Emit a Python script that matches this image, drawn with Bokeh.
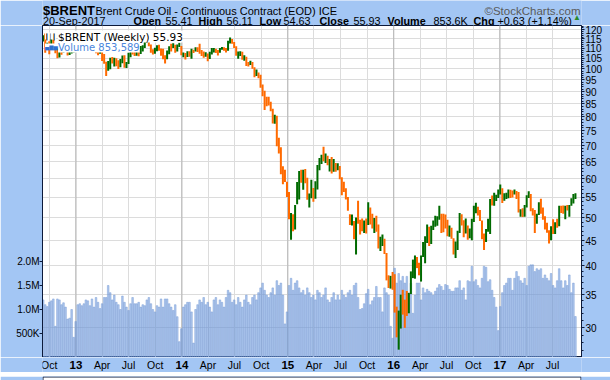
import pandas as pd
from bokeh.plotting import figure
from bokeh.models import (Range1d, LinearAxis, LinearScale, FixedTicker, Label, Span,
                          ColumnDataSource, PrintfTickFormatter)
from bokeh.core.properties import value
from bokeh.layouts import column
from bokeh.embed import file_html
from bokeh.resources import INLINE

# ---------------- data (weekly, Brent continuous contract) ----------------
start_monday = "2012-09-10"

close_2012 = [116.7, 111.4, 112.4, 111.9, 114.6, 109.8, 109.5, 105.7, 109.4, 108.9, 111.4, 111.2, 107.0, 108.6, 109.3, 111.0]
high_2012 = [117.0, 117.9, 113.0, 113.7, 115.4, 114.6, 110.7, 110.2, 110.3, 110.9, 111.6, 111.6, 111.3, 109.0, 110.0, 111.2]
low_2012 = [113.6, 107.8, 109.2, 107.1, 110.6, 109.3, 107.6, 105.1, 105.5, 106.8, 107.9, 109.0, 106.5, 106.7, 107.5, 108.0]
vol_2012 = [1.20, 1.10, 1.06, 1.15, 1.18, 1.22, 0.65, 1.22, 1.20, 1.10, 1.14, 1.05, 0.80, 0.82, 1.00, 0.42]

close_2013 = [111.3, 111.6, 111.9, 113.3, 116.8, 118.9, 117.7, 114.4, 110.4, 110.9, 109.8, 107.8, 110.0,
              104.1, 102.9, 99.7, 103.2, 104.2, 103.9, 104.6, 102.6, 100.4, 104.6, 105.9, 101.2, 102.2,
              107.7, 108.8, 108.1, 107.2, 109.0, 107.4, 110.4, 111.0, 114.0, 116.1, 111.7, 109.2, 108.6,
              109.5, 111.3, 109.9, 106.9, 105.5, 105.1, 108.5, 111.1, 110.7, 111.6, 108.8, 111.8, 112.2]
high_2013 = [112.5, 112.8, 112.3, 113.8, 117.0, 119.2, 119.2, 118.0, 114.8, 112.3, 111.0, 109.8, 110.3,
             111.0, 107.2, 103.4, 103.8, 105.3, 105.7, 105.3, 105.1, 104.1, 104.7, 106.4, 106.6, 103.3,
             108.0, 109.5, 109.3, 108.5, 109.5, 109.4, 111.3, 111.7, 117.3, 117.3, 116.3, 112.1, 109.6,
             110.4, 111.6, 111.9, 110.0, 109.8, 106.6, 109.0, 111.2, 112.4, 112.7, 111.9, 112.0, 112.9]
low_2013 = [109.8, 110.5, 109.6, 110.9, 113.0, 115.8, 116.8, 113.5, 110.0, 109.4, 107.6, 106.6, 107.3,
            103.8, 102.5, 96.8, 99.2, 99.9, 102.6, 101.2, 101.3, 100.0, 100.8, 102.7, 100.6, 100.5,
            102.3, 105.6, 106.9, 106.2, 106.3, 106.1, 107.2, 108.4, 110.3, 113.0, 111.2, 107.8, 107.0,
            107.3, 108.6, 108.8, 106.3, 104.6, 102.6, 104.6, 107.1, 108.4, 110.2, 107.8, 108.4, 110.8]
vol_2013 = [0.75, 1.10, 1.12, 1.08, 1.12, 1.20, 1.18, 1.08, 1.22, 1.05, 1.25, 1.15, 1.02,
            1.12, 1.25, 1.25, 1.50, 1.35, 1.20, 1.30, 1.15, 1.10, 1.00, 1.28, 1.15, 1.05,
            0.98, 1.12, 1.25, 1.12, 1.12, 1.15, 1.05, 1.10, 1.08, 1.20, 1.25, 1.12, 1.00,
            0.95, 1.08, 1.05, 1.22, 1.05, 1.22, 1.22, 1.12, 1.05, 0.98, 1.10, 0.85, 0.33]

close_2014 = [107.0, 107.2, 106.5, 107.9, 106.4, 109.6, 109.1, 110.0, 109.1, 108.6, 108.0, 106.9, 107.4,
              106.7, 107.3, 109.5, 109.6, 108.6, 107.9, 109.8, 110.5, 109.4, 108.6, 113.4, 114.8, 113.3,
              110.6, 106.7, 107.2, 108.4, 105.0, 105.0, 103.5, 102.3, 103.2, 100.8, 97.1, 98.4, 97.0,
              92.3, 90.2, 86.2, 86.1, 85.9, 83.4, 79.4, 80.4, 70.2, 69.1, 61.9, 61.4, 59.5]
high_2014 = [111.3, 108.0, 107.7, 108.6, 108.6, 109.8, 109.4, 110.6, 110.6, 112.4, 109.2, 108.4, 108.1,
             107.4, 108.3, 110.3, 110.2, 109.9, 109.2, 110.3, 110.7, 110.6, 110.2, 114.0, 115.7, 115.0,
             113.4, 111.1, 108.4, 108.6, 108.3, 106.6, 105.8, 103.3, 103.9, 103.3, 100.8, 99.8, 98.4,
             97.3, 93.0, 90.4, 87.9, 87.9, 85.9, 83.1, 80.8, 80.4, 72.6, 69.5, 63.6, 62.6]
low_2014 = [106.6, 105.6, 104.5, 105.7, 105.9, 104.9, 107.7, 108.4, 108.2, 107.3, 106.2, 105.4, 105.8,
            103.7, 104.8, 106.9, 108.0, 107.7, 106.5, 107.8, 109.3, 108.8, 107.9, 108.8, 112.6, 112.4,
            110.2, 106.3, 104.9, 106.2, 104.4, 103.9, 101.4, 101.2, 101.8, 100.1, 96.2, 96.8, 95.8,
            91.6, 88.1, 82.6, 84.1, 84.4, 82.1, 77.6, 77.5, 69.8, 67.5, 61.3, 58.5, 59.1]
vol_2014 = [0.60, 1.05, 1.10, 1.15, 1.15, 0.95, 0.30, 1.00, 1.10, 1.20, 1.15, 1.25, 1.10,
            1.15, 1.05, 0.95, 1.20, 1.25, 1.10, 1.20, 1.15, 1.05, 1.25, 1.40, 1.35, 1.15,
            1.20, 1.10, 1.25, 1.15, 1.05, 1.20, 1.30, 1.15, 1.10, 1.25, 1.30, 1.20, 1.35,
            1.45, 1.55, 1.40, 1.30, 1.25, 1.35, 1.45, 1.30, 1.60, 1.50, 1.55, 1.30, 0.70]

close_2015 = [56.4, 50.1, 50.2, 48.8, 52.9, 57.8, 61.5, 60.2, 62.6, 59.7, 54.7, 55.3, 56.4,
              54.9, 57.9, 63.5, 65.3, 66.5, 65.4, 66.8, 65.4, 65.6, 63.3, 63.9, 63.0, 63.3,
              60.3, 58.7, 57.1, 54.6, 52.2, 48.6, 49.2, 45.5, 50.1, 49.6, 48.1, 47.5, 48.6,
              48.1, 52.7, 50.5, 48.0, 49.6, 47.4, 43.6, 44.7, 44.9, 43.0, 37.9, 36.9, 38.1]
high_2015 = [59.2, 56.4, 51.2, 50.9, 53.1, 59.1, 62.2, 62.6, 62.6, 62.8, 60.3, 56.0, 59.7,
             57.5, 59.3, 64.0, 66.1, 67.1, 69.6, 67.5, 66.8, 65.8, 66.4, 65.8, 64.6, 64.5,
             63.7, 60.4, 59.2, 57.4, 55.1, 50.9, 50.8, 49.3, 50.1, 54.2, 49.6, 49.9, 49.4,
             49.9, 53.8, 52.5, 51.0, 50.0, 50.5, 48.5, 45.8, 46.3, 45.4, 42.5, 38.3, 38.2]
low_2015 = [55.1, 49.7, 45.2, 47.0, 47.4, 53.3, 54.5, 58.9, 57.0, 58.8, 54.4, 52.5, 54.8,
            53.9, 54.7, 57.1, 62.4, 64.3, 65.1, 64.6, 63.9, 62.1, 61.5, 62.0, 62.0, 62.4,
            59.9, 55.6, 56.4, 54.5, 51.7, 48.4, 48.3, 45.3, 42.2, 48.7, 46.3, 47.0, 46.6,
            46.5, 48.4, 48.5, 47.6, 46.6, 46.9, 43.4, 42.9, 43.9, 42.3, 37.4, 36.1, 36.0]
vol_2015 = [0.95, 1.50, 1.65, 1.40, 1.55, 1.60, 1.45, 1.35, 1.40, 1.30, 1.45, 1.35, 1.25,
            1.30, 1.20, 1.40, 1.35, 1.25, 1.30, 1.45, 1.20, 1.15, 1.25, 1.35, 1.20, 1.30,
            1.20, 1.40, 1.30, 1.25, 1.35, 1.40, 1.30, 1.50, 1.55, 1.25, 1.00, 1.02, 1.12,
            1.33, 1.42, 1.10, 1.18, 1.25, 1.48, 1.25, 1.25, 0.95, 1.45, 1.35, 1.30, 0.65]

close_2016 = [37.3, 33.6, 29.0, 32.2, 34.7, 34.1, 33.4, 33.0, 35.1, 38.7, 40.4, 41.2, 40.4,
              38.7, 41.9, 43.1, 45.1, 48.1, 45.4, 47.8, 48.7, 49.3, 49.6, 50.5, 49.2, 48.4,
              48.0, 46.8, 47.6, 45.7, 42.5, 44.3, 46.9, 50.9, 49.9, 46.8, 48.0, 45.8, 45.9, 49.2,
              51.9, 51.9, 51.8, 49.7, 45.6, 44.8, 46.9, 47.2, 54.5, 54.3, 55.2, 55.2, 56.8]
high_2016 = [38.9, 38.5, 33.1, 32.5, 35.0, 35.8, 34.2, 35.6, 35.3, 39.0, 41.2, 42.0, 41.7,
             40.6, 42.0, 44.7, 45.9, 48.5, 48.0, 48.2, 49.4, 50.5, 50.4, 52.9, 51.0, 51.0,
             50.8, 49.6, 48.3, 47.8, 45.5, 44.8, 47.1, 51.2, 50.9, 49.5, 49.9, 48.3, 47.6, 49.8,
             52.9, 53.7, 52.7, 51.9, 49.4, 46.5, 47.5, 49.8, 54.6, 55.5, 56.2, 55.7, 57.1]
low_2016 = [35.8, 32.2, 28.7, 27.1, 29.9, 31.9, 30.0, 31.7, 32.1, 35.1, 37.8, 37.7, 39.6,
            38.3, 37.2, 41.7, 40.5, 44.5, 43.9, 44.3, 47.3, 48.0, 48.2, 49.6, 46.6, 46.8,
            47.6, 45.9, 45.8, 45.4, 42.2, 41.5, 43.1, 46.6, 48.3, 45.7, 46.5, 45.2, 45.5, 45.1,
            49.1, 51.1, 50.6, 49.3, 45.3, 43.1, 44.7, 46.9, 46.4, 53.0, 52.9, 54.1, 54.9]
vol_2016 = [0.40, 1.86, 1.55, 1.75, 1.60, 1.69, 1.55, 1.69, 1.31, 1.55, 0.92, 1.30, 1.55,
            1.55, 1.20, 1.45, 1.35, 1.42, 1.38, 1.35, 1.30, 1.38, 1.45, 1.52, 1.48, 1.40,
            1.52, 1.50, 1.42, 1.38, 1.38, 1.45, 1.45, 1.60, 1.40, 1.45, 1.20, 1.60, 1.58, 1.90,
            1.58, 1.62, 1.50, 1.45, 1.65, 1.90, 1.88, 1.58, 1.62, 1.40, 1.25, 1.05, 0.56]

close_2017 = [57.1, 55.5, 55.5, 55.5, 56.8, 56.7, 55.8, 56.0, 55.9, 51.4, 51.8, 50.8, 52.8,
              55.2, 55.9, 51.9, 51.7, 49.1, 50.8, 53.6, 52.2, 49.9, 48.2, 47.4, 45.5, 47.9,
              46.7, 48.9, 48.1, 52.5, 52.4, 52.1, 52.7, 52.4, 52.8, 53.8, 55.6, 55.93]
high_2017 = [58.4, 57.4, 56.1, 56.2, 57.1, 57.0, 56.8, 57.1, 56.7, 56.4, 52.1, 52.3, 53.1,
             55.6, 56.6, 55.9, 52.3, 51.9, 51.0, 53.8, 54.7, 52.5, 50.4, 48.9, 47.2, 48.1,
             49.7, 49.0, 49.8, 52.9, 52.9, 53.0, 52.9, 53.1, 53.1, 54.8, 55.9, 56.11]
low_2017 = [55.8, 53.6, 54.2, 54.6, 54.8, 54.9, 55.0, 55.8, 54.6, 51.3, 50.3, 50.2, 50.3,
            52.5, 54.9, 51.6, 50.6, 46.6, 48.7, 50.7, 51.0, 49.6, 47.4, 46.7, 44.4, 45.1,
            46.4, 46.4, 47.8, 48.1, 51.2, 51.0, 49.7, 51.8, 50.3, 52.9, 53.5, 54.63]
vol_2017 = [1.06, 1.35, 1.50, 1.55, 1.65, 1.65, 1.40, 1.65, 1.79, 1.69, 1.60, 1.55, 1.65,
            1.50, 1.90, 1.93, 1.93, 1.79, 1.85, 1.82, 1.85, 1.65, 1.72, 1.65, 1.60, 1.75,
            1.50, 1.45, 1.60, 1.85, 1.60, 1.45, 1.60, 1.50, 1.72, 1.35, 1.55, 0.853589]

price_ticks = [30, 35, 40, 45, 50, 55, 60, 65, 70, 75, 80, 85, 90, 95, 100, 105, 110, 115, 120]
vol_ticks = [0.5, 1.0, 1.5, 2.0]
vol_tick_labels = ["500K", "1.0M", "1.5M", "2.0M"]
quarter_labels = ["Oct", "13", "Apr", "Jul", "Oct", "14", "Apr", "Jul", "Oct", "15",
                  "Apr", "Jul", "Oct", "16", "Apr", "Jul", "Oct", "17", "Apr", "Jul"]

close = close_2012 + close_2013 + close_2014 + close_2015 + close_2016 + close_2017
high = high_2012 + high_2013 + high_2014 + high_2015 + high_2016 + high_2017
low = low_2012 + low_2013 + low_2014 + low_2015 + low_2016 + low_2017
vol = vol_2012 + vol_2013 + vol_2014 + vol_2015 + vol_2016 + vol_2017

# ---------------- styling / layout ----------------
BG = "#a3c6f4"
DARK = "#0c1a3a"
GREEN = "#006a00"
ORANGE = "#ff6a00"
SANS = "Liberation Sans"
W = 610
FL, FR, FT, FB = 42, 581, 25, 357     # plot frame edges, page pixels
X0, X1 = -115.4, 1741.9               # day range across the frame

day0 = pd.Timestamp("2013-01-01")
dates = pd.date_range(start_monday, periods=len(close), freq="W-MON")
xday = [(d - day0).days for d in dates]
colors = [GREEN] + [GREEN if close[i] >= close[i - 1] else ORANGE for i in range(1, len(close))]
src = ColumnDataSource(dict(x=xday, high=high, low=low, close=close, vol=vol, color=colors))

qdates = pd.date_range("2012-10-01", periods=len(quarter_labels), freq="QS")
qdays = [int((d - day0).days) for d in qdates]


def strip(height, y_top, x_range=None):
    """A band under/over the chart; frame spans the chart's columns, x/y in page pixels."""
    f = figure(width=W, height=height,
               x_range=x_range if x_range is not None else Range1d(FL, FR),
               y_range=Range1d(y_top + height, y_top),
               output_backend="svg", toolbar_location=None,
               x_axis_location=None, y_axis_location=None,
               min_border_left=FL, min_border_right=W - FR, min_border_top=0, min_border_bottom=0,
               background_fill_color=BG, border_fill_color=BG, outline_line_color=None)
    f.xgrid.grid_line_color = None
    f.ygrid.grid_line_color = None
    return f


def txt(f, x, y, t, size="11px", bold=False, color="black", font=SANS, align="left", baseline="alphabetic"):
    f.text(x=[x], y=[y], text=[t], text_font=value(font), text_font_size=value(size),
           text_font_style="bold" if bold else "normal", text_color=color,
           text_align=align, text_baseline=baseline)


# ---- header band (page y 0..25)
hdr = strip(FT, 0)
txt(hdr, 42.5, 10, "$BRENT", size="13px", bold=True)
txt(hdr, 95, 10, "Brent Crude Oil - Continuous Contract (EOD) ICE", size="11px")
txt(hdr, 580, 10, "\u00a9StockCharts.com", size="11.5px", color="#5a5a5a", align="right")
line2 = [(42.5, "20-Sep-2017", False), (133, "Open", True), (165, "55.41", False),
         (198, "High", True), (226, "56.11", False), (259, "Low", True), (283, "54.63", False),
         (319, "Close", True), (353, "55.93", False), (387, "Volume", True), (433, "853.6K", False),
         (473, "Chg", True), (497, "+0.63 (+1.14%)", False)]
for x, t, b in line2:
    txt(hdr, x, 20.3, t, size="10.8px", bold=b)
txt(hdr, 576.5, 17, "\u25b2", size="8px", color="#2a8a2a", align="center", baseline="middle")

# ---- main price / volume panel (page y 25..357)
p = figure(width=W, height=FB - FT, x_range=Range1d(X0, X1),
           y_range=Range1d(26.13, 122.4), y_axis_type="log", y_axis_location="right",
           x_axis_location=None, output_backend="svg", toolbar_location=None,
           min_border_left=FL, min_border_right=W - FR, min_border_top=0, min_border_bottom=0,
           background_fill_color="white", border_fill_color=BG,
           outline_line_color=DARK, outline_line_width=1)
p.extra_y_ranges = {"vol": Range1d(0, 6.917)}
p.extra_y_scales = {"vol": LinearScale()}

p.xgrid.ticker = FixedTicker(ticks=qdays)
p.xgrid.grid_line_color = "#dcdcdc"
p.ygrid.ticker = FixedTicker(ticks=price_ticks)
p.ygrid.grid_line_color = "#dcdcdc"
for d, lab in zip(qdays, quarter_labels):
    if lab.isdigit():
        p.add_layout(Span(location=d, dimension="height", line_color="#b4b4b4", line_width=1, level="underlay"))

ya = p.yaxis[0]
ya.ticker = FixedTicker(ticks=price_ticks, minor_ticks=list(range(26, 123)))
ya.formatter = PrintfTickFormatter(format="%d")
ya.major_label_text_font = SANS
ya.major_label_text_font_size = "10px"
ya.major_label_text_color = "black"
ya.major_tick_out = 3
ya.major_tick_in = 0
ya.minor_tick_out = 2
ya.minor_tick_in = 0
ya.major_label_standoff = 1
ya.axis_line_color = DARK
ya.major_tick_line_color = DARK
ya.minor_tick_line_color = DARK

va = LinearAxis(y_range_name="vol", ticker=FixedTicker(ticks=vol_ticks),
                major_label_overrides=dict(zip(vol_ticks, vol_tick_labels)))
va.major_label_text_font = SANS
va.major_label_text_font_size = "10px"
va.major_label_text_color = "black"
va.major_tick_out = 3
va.major_tick_in = 0
va.major_label_standoff = 0
va.minor_tick_line_color = None
va.axis_line_color = DARK
va.major_tick_line_color = DARK
p.add_layout(va, "left")

p.vbar(x="x", top="vol", bottom=0, width=5.6, source=src, y_range_name="vol",
       fill_color="#5d8fdc", fill_alpha=0.5, line_color="#7c9fd6", line_width=0.5)
p.segment(x0="x", y0="low", x1="x", y1="high", color="color", line_width=2, source=src)


def plab(x, y, t, size="10px", color="black", font="DejaVu Sans", bg="white"):
    # Label screen units are measured from the frame's bottom-left corner
    p.add_layout(Label(x=x - FL, y=FB - y, x_units="screen", y_units="screen", text=t,
                       text_font=font, text_font_size=size, text_color=color,
                       text_baseline="alphabetic", background_fill_color=bg))


plab(57.5, 36, "$BRENT (Weekly) 55.93", size="10.5px")
plab(57.5, 46.5, "Volume 853,589", color="#4a86dc")
plab(44.5, 35.5, "\u2503\u2502\u2503", size="6px")
plab(44.5, 46, "\u2584\u2586\u2585", size="5.5px", color="#2f6fd0")

# ---- x-axis label band (page y 357..372), x in the chart's day units
axb = strip(372 - FB, FB, x_range=p.x_range)
for d, l in zip(qdays, quarter_labels):
    if l.isdigit():
        txt(axb, d, 364.5, l, size="11.5px", bold=True, align="center", baseline="middle")
    else:
        txt(axb, d, 364.5, l, size="10.5px", align="center", baseline="middle")

# ---- RSI panel top edge (page y 372..380)
rsi = strip(8, 372)
rsi.quad(left=[FL + 0.5], right=[FR - 0.5], top=[372.5], bottom=[383], fill_color="white",
         line_color=DARK, line_width=1)
txt(rsi, 57, 375, "RSI(14) 61.24", size="10.5px", font="DejaVu Sans", baseline="top")
txt(rsi, 45, 375, "\u25b2", size="8px", color="#2f6fd0", baseline="top")

layout = column(hdr, p, axb, rsi, spacing=0)

open("out.html", "w").write(file_html(layout, INLINE))
